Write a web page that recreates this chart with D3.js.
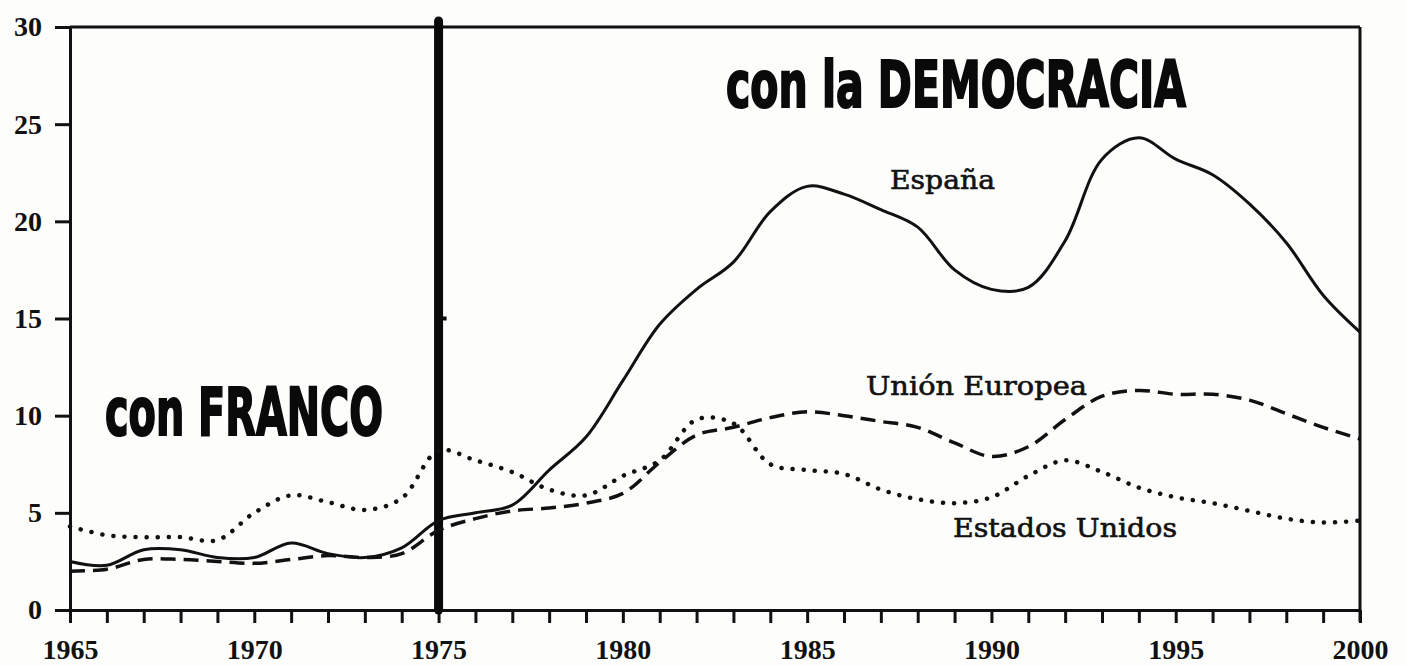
<!DOCTYPE html>
<html>
<head>
<meta charset="utf-8">
<script src="https://cdn.jsdelivr.net/npm/d3@7"></script>
<style>
  html, body { margin: 0; padding: 0; background: #fdfdfc; }
  svg { display: block; }
  .axis path, .axis line { stroke: #111; stroke-width: 3; }
  .axis text { font-family: "Liberation Serif", serif; font-weight: bold; font-size: 28px; fill: #111; }
</style>
</head>
<body>
<svg width="1406" height="665"></svg>
<script>
// tasa de paro (%) 1965-2000
const years = d3.range(1965, 2001)

const espana = [2.5, 2.3, 3.1, 3.1, 2.7, 2.7, 3.45, 2.9, 2.7, 3.2,
  4.6, 5.0, 5.4, 7.2, 8.9, 11.8, 14.7, 16.5, 17.9, 20.5,
  21.8, 21.4, 20.6, 19.7, 17.5, 16.5, 16.6, 19.0, 23.2, 24.3,
  23.2, 22.4, 20.9, 18.9, 16.2, 14.3]

const unionEuropea = [2.0, 2.1, 2.6, 2.6, 2.5, 2.4, 2.6, 2.8, 2.7, 2.9,
  4.1, 4.7, 5.1, 5.25, 5.5, 6.0, 7.6, 9.0, 9.4, 9.9,
  10.2, 10.0, 9.7, 9.4, 8.6, 7.9, 8.4, 9.8, 11.0, 11.3,
  11.1, 11.1, 10.8, 10.1, 9.4, 8.8]

const estadosUnidos = [4.3, 3.85, 3.75, 3.75, 3.6, 5.0, 5.9, 5.55, 5.15, 5.75,
  8.2, 7.7, 7.1, 6.2, 5.9, 6.9, 7.7, 9.8, 9.6, 7.5,
  7.2, 7.0, 6.2, 5.7, 5.5, 5.8, 6.9, 7.7, 7.1, 6.3,
  5.8, 5.5, 5.1, 4.7, 4.5, 4.6]

const yTicks = [0, 5, 10, 15, 20, 25, 30]
const xLabelYears = [1965, 1970, 1975, 1980, 1985, 1990, 1995, 2000]

const svg = d3.select('svg')

// escalas
const xScale = d3.scaleLinear().domain([1965, 2000]).range([70, 1360])
const yScale = d3.scaleLinear().domain([0, 30]).range([610, 27])

// marco superior y derecho
svg.append('line')
  .attr('x1', xScale(1965)).attr('x2', xScale(2000))
  .attr('y1', yScale(30)).attr('y2', yScale(30))
  .attr('stroke', '#111').attr('stroke-width', 3)
svg.append('line')
  .attr('x1', xScale(2000)).attr('x2', xScale(2000))
  .attr('y1', yScale(30)).attr('y2', yScale(0) + 12)
  .attr('stroke', '#111').attr('stroke-width', 3)

// eje x: una marca por año, etiqueta cada 5
svg.append('g')
  .attr('class', 'axis')
  .attr('transform', `translate(0, ${yScale(0)})`)
  .call(d3.axisBottom(xScale)
    .tickValues(years)
    .tickFormat((d) => xLabelYears.includes(d) ? d : '')
    .tickSize(13)
    .tickSizeOuter(0)
    .tickPadding(16))

// eje y
svg.append('g')
  .attr('class', 'axis')
  .attr('transform', `translate(${xScale(1965)}, 0)`)
  .call(d3.axisLeft(yScale)
    .tickValues(yTicks)
    .tickSize(15)
    .tickSizeOuter(0)
    .tickPadding(13))

// linea vertical gruesa en 1975
svg.append('line')
  .attr('x1', xScale(1975)).attr('x2', xScale(1975))
  .attr('y1', yScale(30) - 6).attr('y2', yScale(0))
  .attr('stroke', '#0a0a0a').attr('stroke-width', 9)
  .attr('stroke-linecap', 'round')
// pequeña marca en 15
svg.append('line')
  .attr('x1', xScale(1975)).attr('x2', xScale(1975) + 8)
  .attr('y1', yScale(15)).attr('y2', yScale(15))
  .attr('stroke', '#0a0a0a').attr('stroke-width', 4)

// series
const line = d3.line()
  .x((d, i) => xScale(years[i]))
  .y((d) => yScale(d))
  .curve(d3.curveCatmullRom.alpha(0.5))

svg.append('path')
  .datum(espana)
  .attr('d', line)
  .attr('fill', 'none')
  .attr('stroke', '#111')
  .attr('stroke-width', 3)

svg.append('path')
  .datum(unionEuropea)
  .attr('d', line)
  .attr('fill', 'none')
  .attr('stroke', '#111')
  .attr('stroke-width', 3.5)
  .attr('stroke-dasharray', '15,8')

svg.append('path')
  .datum(estadosUnidos)
  .attr('d', line)
  .attr('fill', 'none')
  .attr('stroke', '#111')
  .attr('stroke-width', 4.5)
  .attr('stroke-linecap', 'round')
  .attr('stroke-dasharray', '0.1,11')

// etiquetas de series
const serieLabels = [
  { text: 'España', x: 890, y: 189, w: 105 },
  { text: 'Unión Europea', x: 866, y: 395, w: 221 },
  { text: 'Estados Unidos', x: 953, y: 537, w: 224 }
]
svg.selectAll('.serie-label')
  .data(serieLabels)
  .enter()
  .append('text')
  .attr('class', 'serie-label')
  .attr('x', (d) => d.x)
  .attr('y', (d) => d.y)
  .attr('textLength', (d) => d.w)
  .attr('lengthAdjust', 'spacingAndGlyphs')
  .style('font-family', '"DejaVu Serif", serif')
  .style('font-size', '26px')
  .style('fill', '#111')
  .style('stroke', '#111')
  .style('stroke-width', 0.6)
  .text((d) => d.text)

// titulos grandes
const bigLabels = [
  { text: 'con FRANCO', x: 105, y: 435, w: 278, size: 66 },
  { text: 'con la DEMOCRACIA', x: 726, y: 107, w: 460, size: 64 }
]
svg.selectAll('.big-label')
  .data(bigLabels)
  .enter()
  .append('text')
  .attr('class', 'big-label')
  .attr('x', (d) => d.x)
  .attr('y', (d) => d.y)
  .attr('textLength', (d) => d.w)
  .attr('lengthAdjust', 'spacingAndGlyphs')
  .style('font-family', '"Liberation Sans Narrow", "DejaVu Sans Condensed", sans-serif')
  .style('font-weight', 'bold')
  .style('font-size', (d) => d.size + 'px')
  .style('fill', '#0a0a0a')
  .style('stroke', '#0a0a0a')
  .style('stroke-width', 2)
  .text((d) => d.text)
</script>
</body>
</html>
